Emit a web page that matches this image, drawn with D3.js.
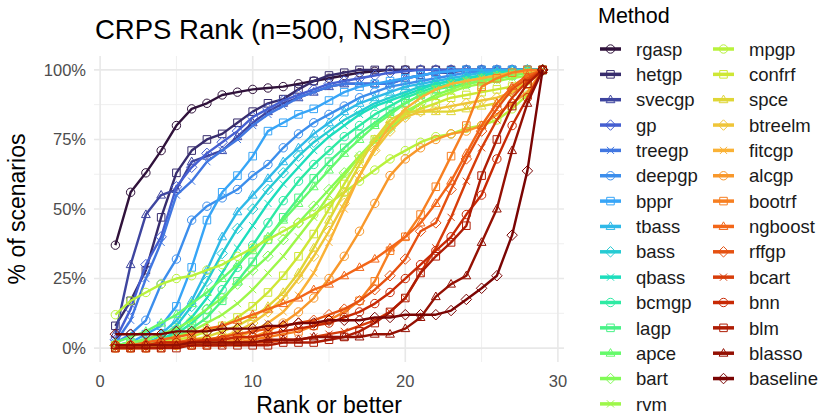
<!DOCTYPE html>
<html>
<head>
<meta charset="utf-8">
<script src="https://cdn.jsdelivr.net/npm/d3@7"></script>
<style>
  body { margin: 0; background: #fff; }
  svg { font-family: "Liberation Sans", Arial, sans-serif; }
</style>
</head>
<body>
<svg id="chart" width="825" height="420"></svg>
<script>
// ranks on the x axis
const ranks = [1,2,3,4,5,6,7,8,9,10,11,12,13,14,15,16,17,18,19,20,21,22,23,24,25,26,27,28,29];

const methods = ["rgasp","hetgp","svecgp","gp","treegp","deepgp","bppr","tbass","bass","qbass",
  "bcmgp","lagp","apce","bart","rvm","mpgp","confrf","spce","btreelm","fitcgp",
  "alcgp","bootrf","ngboost","rffgp","bcart","bnn","blm","blasso","baseline"];

// % of scenarios with rank <= x
const rgasp    = [37,56,63,71,80,86,88,91,92,93,93.5,94,95,96,97,98,99,99.5,100,100,100,100,100,100,100,100,100,100,100];
const hetgp    = [8,17,28,47,63,71,75,77,81,85,88,89.5,93,96,98,99,100,100,100,100,100,100,100,100,100,100,100,100,100];
const svecgp   = [5,30,48,55,57,67,69,71,76,81,85,88,90,92,94,95,95,95,95,97,98,99,99,100,100,100,100,100,100];
const gp       = [3,14,30,40,58,65,70,74,78,83,86,89,91,93,95,96,97,98,99,99.5,100,100,100,100,100,100,100,100,100];
const treegp   = [2,10,25,38,55,60,67,71,75,80,84,87,90,92,94,95,95,95,95,97,98,99,100,100,100,100,100,100,100];
const deepgp   = [2,5,10,23,32,46,51,54,57,62,66,72,77,81,84,87,90,92,94,95,96,97,98,99,99.5,100,100,100,100];
const bppr     = [1,2,5,8,15,29,46,56,62,69,78,81,84,86,89,92,94,95,96,97,98,99,99.5,100,100,100,100,100,100];
const tbass    = [1,2,3,5,10,17,28,40,49,55,61,67,72,77,81,85,88,90,92,94,95,96,97,98,99,99.5,100,100,100];
const bass     = [1,1,2,4,8,15,24,34,43,50,57,63,69,74,78,82,85,88,90,92,94,95,96,97,98,99,99.5,100,100];
const qbass    = [1,1,2,3,6,11,18,27,36,44,52,59,65,71,76,80,84,87,89,91,93,95,96,97,98,99,99.5,100,100];
const bcmgp    = [1,1,2,3,5,9,14,21,29,37,45,53,60,66,71,76,80,84,87,90,92,94,95,96,97,98,99,100,100];
const lagp     = [1,1,1,2,4,7,11,17,24,31,39,47,54,61,67,72,77,81,85,88,91,93,94,95,96,97,98,99,100];
const apce     = [2,4,6,9,12,16,20,25,30,35,40,46,52,58,64,70,75,80,84,88,91,93,95,96,97,98,99,99.5,100];
const bart     = [1,2,3,5,7,10,14,18,23,28,33,39,45,51,57,63,69,74,79,84,88,91,93,95,96,97,98,99,100];
const rvm      = [1,1,2,3,4,6,9,12,16,21,27,33,40,47,55,62,69,75,80,85,88,90,92,94,95,96,97,98,100];
const mpgp     = [12,17,20,23,25,26,28,30,33,36,39,42,45,48,52,56,60,64,68,71,74,76,77,79,80,82,86,91,100];
const confrf   = [1,1,1,2,3,4,6,8,11,15,20,26,33,41,50,59,68,75,80,84,86,88,90,91,92,93,94,96,100];
const spce     = [1,1,1,1,2,3,4,6,8,11,15,20,27,36,46,56,66,75,82,85,85,85,85,86,87,88,92,96,100];
const btreelm  = [1,1,1,1,1,2,3,4,6,9,13,18,25,33,42,52,62,71,78,83,85,86,87,88,89,90,92,95,100];
const fitcgp   = [0,0,1,1,1,2,2,3,4,6,9,13,19,27,38,50,62,72,80,86,90,93,95,96,97,98,99,99.5,100];
const alcgp    = [0,0,0,1,1,1,2,2,3,4,6,9,13,18,25,33,42,52,62,68,72,75,77,78,80,84,88,92,100];
const bootrf   = [0,0,0,0,1,1,1,2,2,3,4,5,6,8,10,13,17,24,35,40,48,58,69,80,94,97,99,100,100];
const ngboost  = [1,1,2,3,4,5,7,8,10,12,14,16,18,21,23,26,29,32,36,40,45,52,60,70,80,88,94,98,100];
const rffgp    = [1,1,1,2,2,3,3,4,5,6,7,8,9,10,12,14,17,21,26,32,42,45,57,68,78,86,93,97,100];
const bcart    = [0,0,0,0,1,1,1,1,2,2,2,3,3,4,5,6,8,10,13,18,27,36,47,60,72,82,90,96,100];
const bnn      = [1,1,1,2,2,2,3,3,4,4,5,6,7,8,9,11,13,16,20,25,30,35,40,48,55,68,80,90,100];
const blm      = [0,0,0,0,0,1,1,1,1,1,1,2,2,2,3,4,6,9,13,18,27,33,38,44,62,75,87,95,100];
const blasso   = [1,1,1,1,1,2,2,2,2,2,3,3,3,4,4,4,4,5,5,7,11,18.5,23,26,38,50,71,88,100];
const baseline = [5,5,5,5,6,6,6,7,7,7,8,8,9,9,10,10,10,11,11,12,12,12,13.5,17.5,21.5,26,40.6,63.7,100];

const values = [rgasp,hetgp,svecgp,gp,treegp,deepgp,bppr,tbass,bass,qbass,
  bcmgp,lagp,apce,bart,rvm,mpgp,confrf,spce,btreelm,fitcgp,
  alcgp,bootrf,ngboost,rffgp,bcart,bnn,blm,blasso,baseline];

const xTicks = [0,10,20,30];
const yTicks = [0,25,50,75,100];

// turbo key colours, spread over the methods
const turboKeys = ["#30123B","#4662D7","#36AAF9","#1AE4B6","#72FE5E","#C7EF34","#FABA39","#F66B19","#CB2A04","#7A0403"];
const turbo = d3.piecewise(d3.interpolateRgb, turboKeys);
const colour = d3.scaleOrdinal().domain(methods)
  .range(methods.map((m, i) => turbo(i / (methods.length - 1))));

const shapeNames = ["circle","square","triangle","diamond","cross"];
const shapeOf = d3.scaleOrdinal().domain(methods)
  .range(methods.map((m, i) => shapeNames[i % 5]));

function shapePath(kind, r) {
  if (kind === "circle") {
    return `M${r},0A${r},${r} 0 1,1 ${-r},0A${r},${r} 0 1,1 ${r},0Z`;
  } else if (kind === "square") {
    const s = r * 0.9;
    return `M${-s},${-s}H${s}V${s}H${-s}Z`;
  } else if (kind === "triangle") {
    const h = r * 1.1;
    return `M0,${-h}L${h * 0.95},${h * 0.65}L${-h * 0.95},${h * 0.65}Z`;
  } else if (kind === "diamond") {
    const d = r * 1.25;
    return `M0,${-d}L${d},0L0,${d}L${-d},0Z`;
  }
  const c = r * 0.85;
  return `M${-c},${-c}L${c},${c}M${-c},${c}L${c},${-c}`;
}

const svg = d3.select("#chart");

const x = d3.scaleLinear().domain([-0.4, 30.4]).range([94, 564]);
const y = d3.scaleLinear().domain([-5, 105]).range([362, 56]);

// grid
const grid = svg.append("g");
grid.selectAll("line.minx")
  .data([5, 15, 25])
  .join("line")
  .attr("x1", d => x(d)).attr("x2", d => x(d))
  .attr("y1", y.range()[0]).attr("y2", y.range()[1])
  .attr("stroke", "#efefef").attr("stroke-width", 1);
grid.selectAll("line.miny")
  .data([12.5, 37.5, 62.5, 87.5])
  .join("line")
  .attr("y1", d => y(d)).attr("y2", d => y(d))
  .attr("x1", x.range()[0]).attr("x2", x.range()[1])
  .attr("stroke", "#efefef").attr("stroke-width", 1);
grid.selectAll("line.majx")
  .data(xTicks)
  .join("line")
  .attr("x1", d => x(d)).attr("x2", d => x(d))
  .attr("y1", y.range()[0]).attr("y2", y.range()[1])
  .attr("stroke", "#e8e8e8").attr("stroke-width", 1.6);
grid.selectAll("line.majy")
  .data(yTicks)
  .join("line")
  .attr("y1", d => y(d)).attr("y2", d => y(d))
  .attr("x1", x.range()[0]).attr("x2", x.range()[1])
  .attr("stroke", "#e8e8e8").attr("stroke-width", 1.6);

// tick labels
svg.append("g")
  .selectAll("text")
  .data(yTicks)
  .join("text")
  .attr("x", 86)
  .attr("y", d => y(d))
  .attr("dy", "0.36em")
  .attr("text-anchor", "end")
  .attr("font-size", 16.5)
  .attr("fill", "#4d4d4d")
  .text(d => d + "%");

svg.append("g")
  .selectAll("text")
  .data(xTicks)
  .join("text")
  .attr("x", d => x(d))
  .attr("y", 387)
  .attr("text-anchor", "middle")
  .attr("font-size", 16.5)
  .attr("fill", "#4d4d4d")
  .text(d => d);

// lines + points
const line = d3.line()
  .x((d, i) => x(ranks[i]))
  .y(d => y(d));

const series = svg.append("g")
  .selectAll("g")
  .data(methods.map((m, i) => ({ name: m, vals: values[i] })))
  .join("g");

series.append("path")
  .attr("d", d => line(d.vals))
  .attr("fill", "none")
  .attr("stroke", d => colour(d.name))
  .attr("stroke-width", 2.4)
  .attr("stroke-linejoin", "round");

series.selectAll("path.pt")
  .data(d => d.vals.map((v, i) => ({ name: d.name, r: ranks[i], v: v })))
  .join("path")
  .attr("class", "pt")
  .attr("transform", d => `translate(${x(d.r)},${y(d.v)})`)
  .attr("d", d => shapePath(shapeOf(d.name), 4.2))
  .attr("fill", "none")
  .attr("stroke", d => colour(d.name))
  .attr("stroke-width", 1);

// titles
svg.append("text")
  .attr("x", 95).attr("y", 39)
  .attr("font-size", 27.5)
  .attr("fill", "#000")
  .text("CRPS Rank (n=500, NSR=0)");

svg.append("text")
  .attr("x", 329).attr("y", 413)
  .attr("text-anchor", "middle")
  .attr("font-size", 23)
  .text("Rank or better");

svg.append("text")
  .attr("transform", "translate(25,209) rotate(-90)")
  .attr("text-anchor", "middle")
  .attr("font-size", 23)
  .text("% of scenarios");

// legend
const legend = svg.append("g");
legend.append("text")
  .attr("x", 598).attr("y", 23)
  .attr("font-size", 21.5)
  .text("Method");

const rowH = 25.35;
const items = legend.selectAll("g.item")
  .data(methods)
  .join("g")
  .attr("class", "item")
  .attr("transform", (d, i) => {
    const col = i < 15 ? 0 : 1;
    const row = i < 15 ? i : i - 15;
    return `translate(${col ? 713 : 600},${49 + row * rowH})`;
  });

items.append("line")
  .attr("x1", 0).attr("x2", 21)
  .attr("stroke", d => colour(d))
  .attr("stroke-width", 3.5);

items.append("path")
  .attr("transform", "translate(10.5,0)")
  .attr("d", d => shapePath(shapeOf(d), 4.2))
  .attr("fill", "none")
  .attr("stroke", d => colour(d))
  .attr("stroke-width", 1);

items.append("text")
  .attr("x", 36)
  .attr("dy", "0.36em")
  .attr("font-size", 18.5)
  .attr("fill", "#1a1a1a")
  .text(d => d);
</script>
</body>
</html>
